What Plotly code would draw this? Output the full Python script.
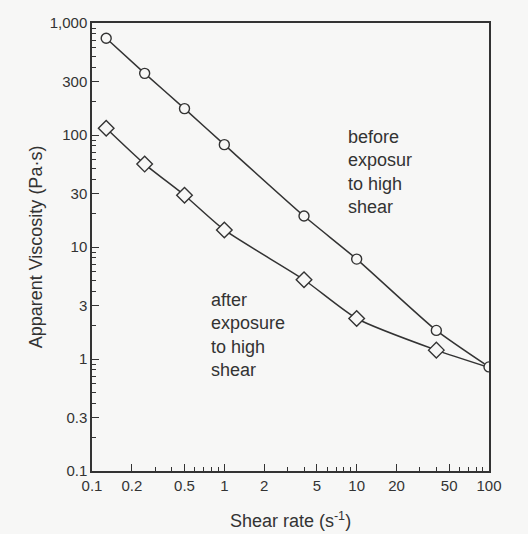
import plotly.graph_objects as go

shear_before = [0.128, 0.25, 0.5, 1, 4, 10, 40, 100]
visc_before = [730, 355, 172, 82, 18.9, 7.8, 1.8, 0.85]
shear_after = [0.128, 0.25, 0.5, 1, 4, 10, 40, 100]
visc_after = [115, 55, 29, 14.2, 5.1, 2.3, 1.2, 0.84]

x_tickvals = [0.1, 0.2, 0.5, 1, 2, 5, 10, 20, 50, 100]
x_ticktext = ["0.1", "0.2", "0.5", "1", "2", "5", "10", "20", "50", "100"]
y_tickvals = [0.1, 0.3, 1, 3, 10, 30, 100, 300, 1000]
y_ticktext = ["0.1", "0.3", "1", "3", "10", "30", "100", "300", "1,000"]

x_minor = [m * d for d in (0.1, 1, 10) for m in (3, 4, 6, 7, 8, 9)]
y_minor = [m * d for d in (0.1, 1, 10, 100) for m in (2, 4, 5, 6, 7, 8, 9)]

label_before = "before<br>exposur<br>to high<br>shear"
label_after = "after<br>exposure<br>to high<br>shear"

ink = "#333333"
bg = "#f7f7f6"
fam = "Liberation Sans, Arial, sans-serif"

fig = go.Figure()
fig.add_trace(go.Scatter(
    x=shear_before, y=visc_before, mode="lines",
    line=dict(color=ink, width=1.5, shape="spline", smoothing=0.6),
    showlegend=False, hoverinfo="skip"))
fig.add_trace(go.Scatter(
    x=shear_after, y=visc_after, mode="lines",
    line=dict(color=ink, width=1.5, shape="spline", smoothing=0.6),
    showlegend=False, hoverinfo="skip"))
fig.add_trace(go.Scatter(
    x=shear_after[:-1], y=visc_after[:-1], mode="markers",
    marker=dict(symbol="diamond", size=12, color=bg, line=dict(color=ink, width=1.4)),
    showlegend=False))
fig.add_trace(go.Scatter(
    x=shear_before, y=visc_before, mode="markers",
    marker=dict(symbol="circle", size=10, color=bg, line=dict(color=ink, width=1.4)),
    showlegend=False))

fig.add_annotation(x=0.64, y=0.773, xref="x domain", yref="y domain",
                   text=label_before, showarrow=False, align="left",
                   xanchor="left", yanchor="top",
                   font=dict(size=18, color=ink, family=fam))
fig.add_annotation(x=0.295, y=0.409, xref="x domain", yref="y domain",
                   text=label_after, showarrow=False, align="left",
                   xanchor="left", yanchor="top",
                   font=dict(size=18, color=ink, family=fam))

axis_common = dict(
    type="log", showgrid=False, zeroline=False, automargin=False,
    showline=True, linecolor=ink, linewidth=1.5, mirror=True,
    ticks="inside", ticklen=7, tickwidth=1.2, tickcolor=ink,
    tickfont=dict(size=15, color=ink, family=fam),
)

fig.update_xaxes(
    **axis_common,
    range=[-1, 2],
    tickmode="array", tickvals=x_tickvals, ticktext=x_ticktext,
    minor=dict(tickmode="array", tickvals=x_minor, ticks="inside",
               ticklen=4, tickcolor=ink, showgrid=False),
    title=dict(text="Shear rate (s<sup>-1</sup>)", font=dict(size=18, color=ink, family=fam), standoff=22),
)
fig.update_yaxes(
    **axis_common,
    range=[-1, 3],
    tickmode="array", tickvals=y_tickvals, ticktext=y_ticktext,
    minor=dict(tickmode="array", tickvals=y_minor, ticks="inside",
               ticklen=4, tickcolor=ink, showgrid=False),
    title=dict(text="Apparent Viscosity (Pa·s)", font=dict(size=18, color=ink, family=fam), standoff=2),
)

fig.update_layout(
    width=528, height=534,
    margin=dict(l=92, r=39, t=23, b=63),
    paper_bgcolor=bg, plot_bgcolor=bg,
    font=dict(family=fam, color=ink),
)

fig.write_html("out.html")
